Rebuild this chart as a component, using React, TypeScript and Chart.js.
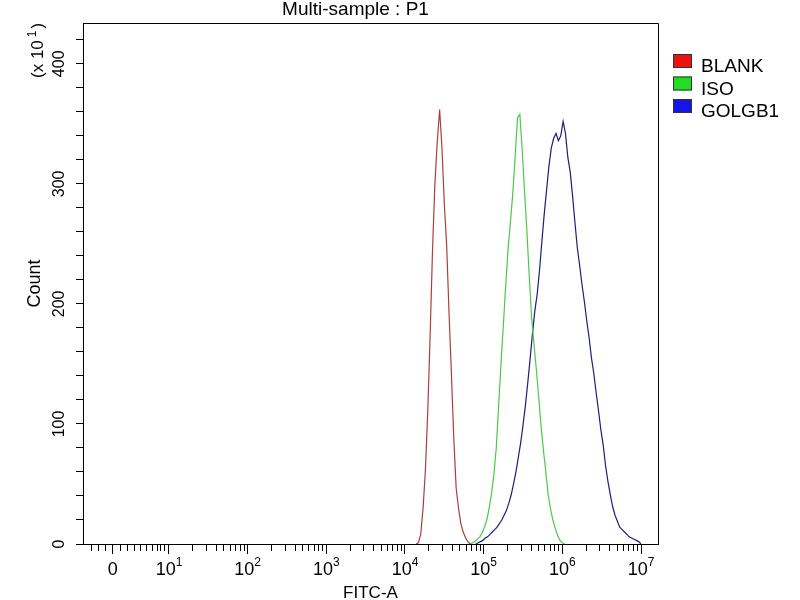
import React, { useEffect, useRef } from 'react';
import { Chart, registerables } from 'chart.js';

Chart.register(...registerables);

const FONT = '"Liberation Sans", Arial, sans-serif';

const TITLE = 'Multi-sample : P1';
const X_TITLE = 'FITC-A';
const Y_TITLE = 'Count';
const Y_NOTE = ['(x 10', '1', ')'];

const SERIES_LABELS = ['BLANK', 'ISO', 'GOLGB1'];
const LINE_COLORS = ['#a8403c', '#4cc84c', '#1e1e78'];
const LEGEND_COLORS = ['#ee1111', '#22dd22', '#1515e6'];

// x axis in display units (decades of FITC-A; biexponential near zero)
const X_MIN = -0.093;
const X_MAX = 7.216;
const X_TICK_POS = [0.284, 1, 2, 3, 4, 5, 6, 7];
const X_TICK_BASE = ['0', '10', '10', '10', '10', '10', '10', '10'];
const X_TICK_EXP = ['', '1', '2', '3', '4', '5', '6', '7'];
const X_MINOR_LOW = [0.017, 0.101, 0.195, 0.386, 0.47, 0.559, 0.644, 0.717, 0.788, 0.851, 0.898, 0.949];
const X_MINOR_DECADES = [1, 2, 3, 4, 5, 6];
const X_MINOR_MULTS = [2, 3, 4, 5, 6, 7, 8, 9];

const Y_MIN = 0;
const Y_MAX = 434;
const Y_STEP = 20;
const Y_LABEL_STEP = 100;

// histogram bins (width in decades)
const BIN_WIDTH = 0.03;
const BLANK_START = 4.14;
const BLANK_COUNTS = [0, 1, 8, 30, 62, 112, 175, 245, 300, 335, 362, 330, 283, 248, 192, 142, 88, 47, 30, 17, 10, 5, 2, 0];
const ISO_START = 4.8;
const ISO_COUNTS = [0, 0, 1, 2, 4, 6, 9, 14, 20, 30, 42, 58, 80, 115, 150, 182, 215, 245, 268, 292, 323, 355, 358, 328, 293, 260, 222, 188, 166, 145, 122, 98, 78, 60, 41, 29, 20, 13, 7, 3, 1, 0];
const GOLGB1_START = 4.9;
const GOLGB1_COUNTS = [0, 1, 2, 3, 5, 6, 8, 10, 12, 14, 17, 20, 24, 28, 34, 41, 50, 60, 72, 84, 99, 115, 134, 154, 175, 194, 208, 228, 252, 275, 295, 315, 330, 338, 342, 336, 340, 352, 342, 322, 310, 290, 268, 247, 232, 216, 202, 186, 172, 155, 142, 126, 111, 95, 82, 65, 52, 41, 31, 24, 19, 14, 12, 10, 8, 6, 5, 4, 3, 2, 0];

const SERIES_STARTS = [BLANK_START, ISO_START, GOLGB1_START];
const SERIES_COUNTS = [BLANK_COUNTS, ISO_COUNTS, GOLGB1_COUNTS];

const align = (p: number) => Math.round(p - 0.5) + 0.5;

const decorPlugin = {
  id: 'decor',
  afterDraw(chart: any) {
    const { ctx, chartArea: a } = chart;
    const xs = chart.scales.x;
    ctx.save();
    ctx.strokeStyle = '#000';
    ctx.fillStyle = '#000';
    ctx.lineWidth = 1;
    // frame (top & right)
    const L = align(a.left), R = align(a.right), T = align(a.top), B = align(a.bottom);
    ctx.beginPath();
    ctx.moveTo(L, T); ctx.lineTo(R, T); ctx.lineTo(R, B);
    ctx.stroke();

    // minor ticks on x axis
    const minor: number[] = [...X_MINOR_LOW];
    X_MINOR_DECADES.forEach((d) => X_MINOR_MULTS.forEach((m) => minor.push(d + Math.log10(m))));
    ctx.beginPath();
    minor.forEach((v) => {
      const px = align(xs.getPixelForValue(v));
      ctx.moveTo(px, a.bottom);
      ctx.lineTo(px, a.bottom + 7);
    });
    ctx.stroke();

    // x tick labels with superscripts
    const baseFont = `18px ${FONT}`;
    const supFont = `12px ${FONT}`;
    ctx.textBaseline = 'alphabetic';
    ctx.textAlign = 'left';
    X_TICK_POS.forEach((v, i) => {
      const px = xs.getPixelForValue(v);
      ctx.font = baseFont;
      const wb = ctx.measureText(X_TICK_BASE[i]).width;
      ctx.font = supFont;
      const ws = X_TICK_EXP[i] ? ctx.measureText(X_TICK_EXP[i]).width : 0;
      const sx = px - (wb + ws) / 2;
      ctx.font = baseFont;
      ctx.fillText(X_TICK_BASE[i], sx, a.bottom + 31);
      if (X_TICK_EXP[i]) {
        ctx.font = supFont;
        ctx.fillText(X_TICK_EXP[i], sx + wb, a.bottom + 21.5);
      }
    });

    // title
    ctx.font = `19px ${FONT}`;
    ctx.textAlign = 'center';
    ctx.fillText(TITLE, 355.5, 15);

    // y multiplier note, rotated
    ctx.save();
    ctx.translate(43, 78);
    ctx.rotate(-Math.PI / 2);
    ctx.textAlign = 'left';
    ctx.font = `17px ${FONT}`;
    ctx.fillText(Y_NOTE[0], 0, 0);
    let off = ctx.measureText(Y_NOTE[0]).width + 3;
    ctx.font = `12px ${FONT}`;
    ctx.fillText(Y_NOTE[1], off, -7);
    off += ctx.measureText(Y_NOTE[1]).width + 2;
    ctx.font = `17px ${FONT}`;
    ctx.fillText(Y_NOTE[2], off, 0);
    ctx.restore();

    // legend
    ctx.font = `19px ${FONT}`;
    ctx.textAlign = 'left';
    chart.data.datasets.forEach((ds: any, i: number) => {
      const base = 72 + i * 22.5;
      ctx.fillStyle = LEGEND_COLORS[i];
      ctx.fillRect(673, base - 18, 19, 14);
      ctx.strokeStyle = '#333';
      ctx.strokeRect(673.5, base - 17.5, 18, 13);
      ctx.fillStyle = '#000';
      ctx.fillText(ds.label, 701, base);
    });
    ctx.restore();
  },
};

export default function App() {
  const ref = useRef<HTMLCanvasElement | null>(null);
  useEffect(() => {
    if (!ref.current) return;
    Chart.defaults.font.family = FONT;
    const datasets = SERIES_LABELS.map((label, s) => ({
      label,
      data: SERIES_COUNTS[s].map((c, i) => ({ x: SERIES_STARTS[s] + i * BIN_WIDTH, y: c })),
      borderColor: LINE_COLORS[s],
      backgroundColor: LINE_COLORS[s],
      borderWidth: 1.2,
      pointRadius: 0,
      fill: false,
      tension: 0,
    }));
    const chart = new Chart(ref.current, {
      type: 'line',
      data: { datasets },
      plugins: [decorPlugin],
      options: {
        animation: false,
        responsive: true,
        maintainAspectRatio: false,
        layout: { padding: { top: 23, right: 142, left: 0, bottom: 0 } },
        plugins: {
          legend: { display: false },
          title: { display: false },
          tooltip: { enabled: false },
        },
        scales: {
          x: {
            type: 'linear',
            min: X_MIN,
            max: X_MAX,
            afterBuildTicks: (s: any) => {
              s.ticks = X_TICK_POS.map((v) => ({ value: v }));
            },
            afterFit: (s: any) => {
              s.height = 56;
            },
            ticks: { display: false },
            grid: { drawOnChartArea: false, drawTicks: true, tickLength: 10, color: '#000' },
            border: { display: true, color: '#000', width: 1 },
            title: {
              display: true,
              text: X_TITLE,
              color: '#000',
              font: { family: FONT, size: 17, lineHeight: 1 },
              padding: { top: 0, bottom: -2 },
            },
          },
          y: {
            type: 'linear',
            min: Y_MIN,
            max: Y_MAX,
            afterFit: (s: any) => {
              s.width = 83;
            },
            ticks: {
              stepSize: Y_STEP,
              includeBounds: false,
              autoSkip: false,
              minRotation: 90,
              maxRotation: 90,
              crossAlign: 'center',
              padding: 3,
              color: '#000',
              font: { family: FONT, size: 16 },
              callback: (v: any) => (Number(v) % Y_LABEL_STEP === 0 ? String(v) : ''),
            },
            grid: { drawOnChartArea: false, drawTicks: true, tickLength: 7, color: '#000' },
            border: { display: true, color: '#000', width: 1 },
            title: {
              display: true,
              text: Y_TITLE,
              color: '#000',
              font: { family: FONT, size: 18, lineHeight: 1 },
              padding: { top: 26, bottom: 0 },
            },
          },
        },
      },
    });
    return () => chart.destroy();
  }, []);
  return (
    <div style={{ position: 'absolute', left: 0, top: 0, width: 800, height: 600, background: '#fff' }}>
      <canvas ref={ref} />
    </div>
  );
}
